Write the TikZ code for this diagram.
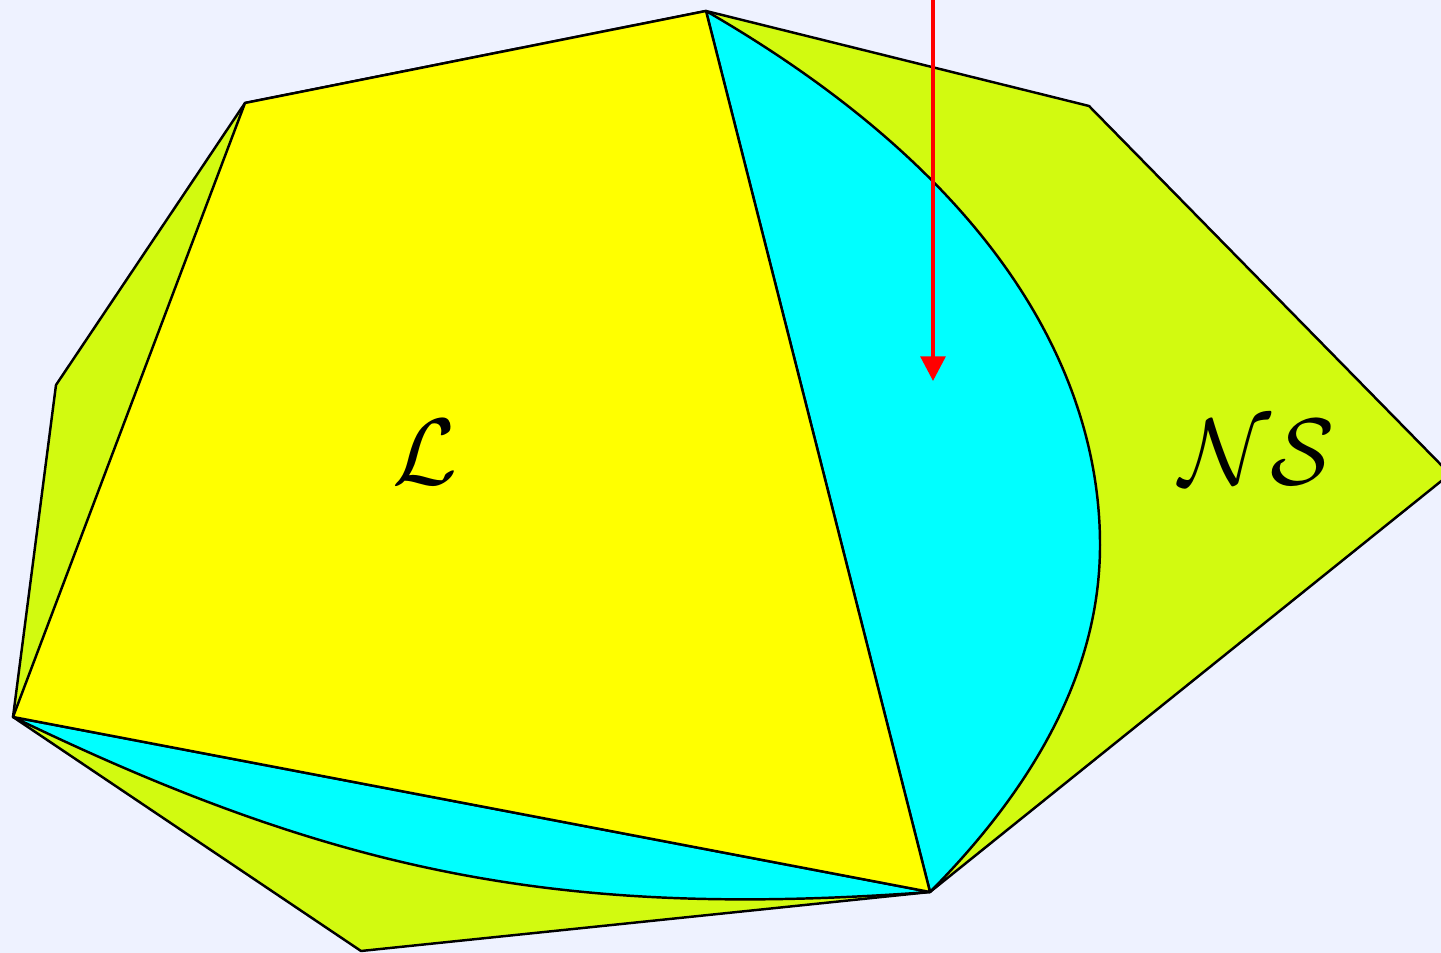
\documentclass[tikz,border=0pt]{standalone}
\usetikzlibrary{arrows.meta}
\definecolor{bgblue}{RGB}{238,242,255}
\definecolor{nsgreen}{RGB}{210,250,16}
\definecolor{lenscyan}{RGB}{0,255,255}
\definecolor{lyellow}{RGB}{255,255,0}
\definecolor{pointred}{RGB}{255,0,0}
\begin{document}
\begin{tikzpicture}[
  region/.style={draw=black, line width=0.7pt, line join=round},
  pointer/.style={-{Triangle[width=7pt,length=7pt]}, line width=1.2pt, pointred},
  setlabel/.style={font=\Huge, scale=1.08}
]
  % Canvas
  \fill[bgblue] (0,0) rectangle (14.41,9.53);
  \useasboundingbox (0,0) rectangle (14.41,9.53);
  \clip (0,0) rectangle (14.41,9.53);

  % Corners
  \coordinate (A) at (7.06,9.42);
  \coordinate (B) at (10.89,8.47);
  \coordinate (C) at (14.50,4.79);
  \coordinate (D) at (9.30,0.61);
  \coordinate (E) at (3.61,0.02);
  \coordinate (F) at (0.13,2.36);
  \coordinate (G) at (0.56,5.68);
  \coordinate (H) at (2.45,8.50);
  \coordinate (M) at (11.00,4.08); % rightmost point of the lens

  % Outer region NS
  \draw[region, fill=nsgreen] (A) -- (B) -- (C) -- (D) -- (E) -- (F) -- (G) -- (H) -- cycle;

  % Lenses
  \draw[region, fill=lenscyan] (A) .. controls (10.09,7.67) and (11.00,5.68) .. (M)
    .. controls (11.00,2.98) and (10.50,1.82) .. (D) -- cycle;
  \draw[region, fill=lenscyan] (F) to[bend right=15] (D) -- cycle;

  % Inner region L
  \draw[region, fill=lyellow] (H) -- (A) -- (D) -- (F) -- cycle;

  % Pointer
  \coordinate (top) at (9.33,9.80);
  \coordinate (tip) at (9.33,5.72);
  \draw[pointer] (top) -- (tip);

  % Labels
  \node[setlabel] (lbl) at (4.25,5.01) {$\mathcal{L}$};
  \node[setlabel] (nslbl) at (12.57,5.01) {$\mathcal{NS}$};
\end{tikzpicture}
\end{document}
